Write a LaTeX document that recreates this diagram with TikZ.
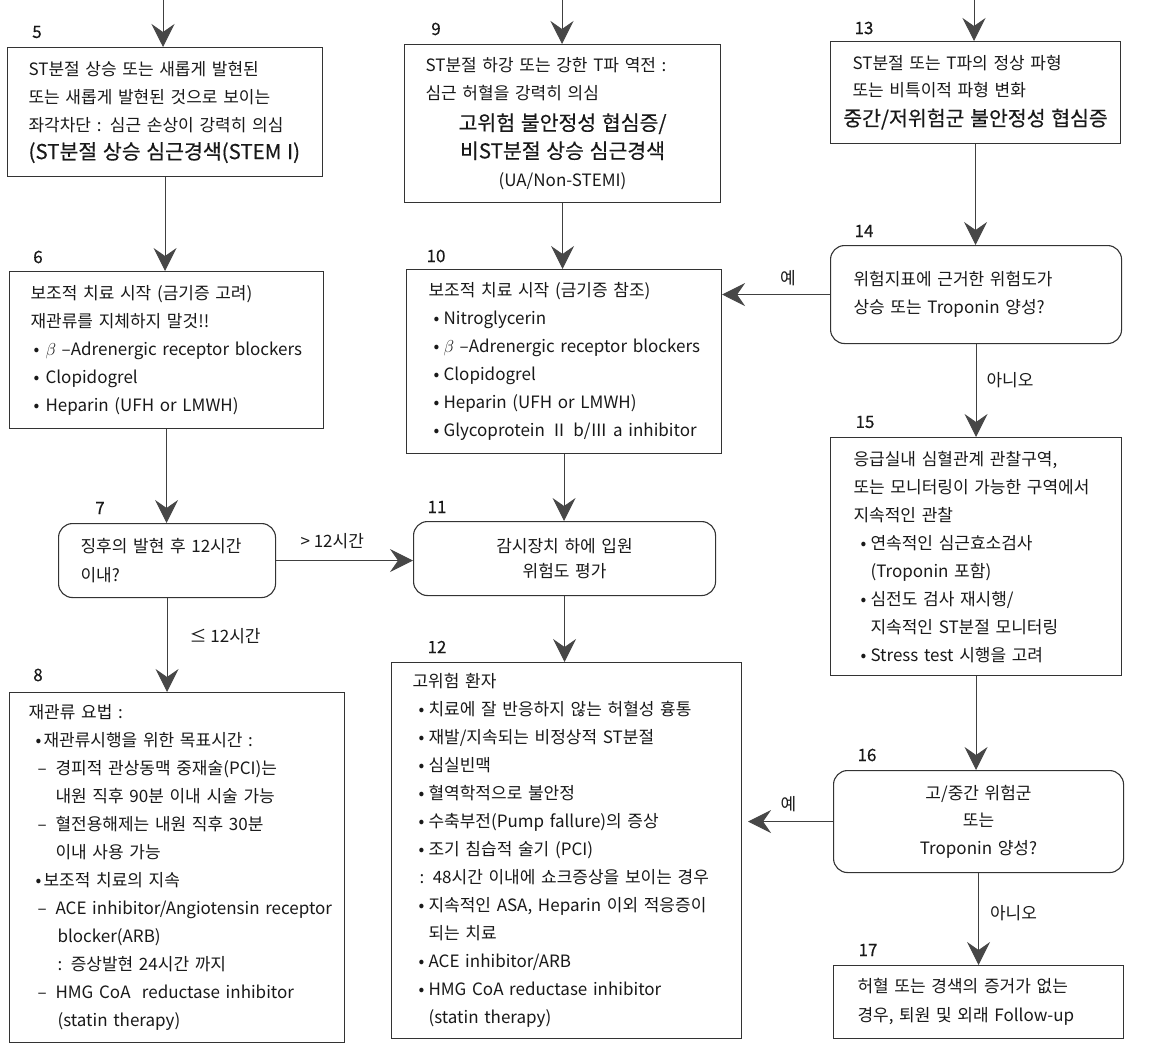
\documentclass[tikz,border=0pt]{standalone}
\usepackage{fontspec}
\setmainfont{Noto Sans CJK KR}
\newfontfamily\medfont[FakeBold=0.35]{Noto Sans CJK KR}
\usetikzlibrary{arrows.meta}
\newcommand\RR{\raggedright\rightskip=0pt plus 1fil minus 90pt\relax}
\newcommand\bl[2]{\hspace*{#1}\makebox[\dimexpr#2-#1\relax][l]{•}}
\newcommand\ds[2]{\hspace*{#1}\makebox[\dimexpr#2-#1\relax][l]{–}}
\newcommand\ctr[1]{\makebox[\linewidth][c]{#1}}
\newcommand\BigTxt{\medfont\fontsize{20.5}{28}\selectfont}
\begin{document}
\begin{tikzpicture}[x=1pt,y=-1pt,
  box/.style={draw=black!80, line width=1.1pt, anchor=north west, inner ysep=0pt,
    font=\fontsize{17}{28}\selectfont, text=black!90},
  rbox/.style={box, rounded corners=14pt},
  num/.style={font=\medfont\fontsize{17}{20}\selectfont, text=black!90, inner sep=0pt},
  lbl/.style={font=\fontsize{17}{20}\selectfont, text=black!90, inner sep=0pt},
  arr/.style={draw=black!75, line width=1pt,
    -{Stealth[length=23pt,width=23pt,inset=8pt,color=black!72,fill=black!72]}}
]
\useasboundingbox[fill=white] (0,0) rectangle (1152,1062);

% ---------- left column ----------
\node[box, inner xsep=21pt, text width=273pt, minimum height=129pt] (b5) at (7,47) {\RR
ST분절 상승 또는 새롭게 발현된\\
또는 새롭게 발현된 것으로 보이는\\
좌각차단 : 심근 손상이 강력히 의심\\
{\BigTxt (ST분절 상승 심근경색(STEM I)}\par};

\node[box, inner xsep=21pt, text width=272pt, minimum height=157pt] (b6) at (9,271) {\RR
보조적 치료 시작 (금기증 고려)\\
재관류를 지체하지 말것!!\\
\bl{3pt}{15pt}$\beta$ –Adrenergic receptor blockers\\
\bl{3pt}{15pt}Clopidogrel\\
\bl{3pt}{15pt}Heparin (UFH or LMWH)\par};

\node[rbox, inner xsep=22pt, text width=173pt, minimum height=74pt] (b7) at (58,523) {\RR
\fontsize{17}{29}\selectfont
징후의 발현 후 12시간\\
이내?\par};

\node[box, inner xsep=19pt, text width=297pt, minimum height=350pt] (b8) at (9,692) {\RR
재관류 요법 :\\
\bl{7pt}{15pt}재관류시행을 위한 목표시간 :\\
\ds{9pt}{27pt}경피적 관상동맥 중재술(PCI)는\\
\hspace*{27pt}내원 직후 90분 이내 시술 가능\\
\ds{9pt}{27pt}혈전용해제는 내원 직후 30분\\
\hspace*{27pt}이내 사용 가능\\
\bl{7pt}{15pt}보조적 치료의 지속\\
\ds{9pt}{27pt}ACE inhibitor/Angiotensin receptor\\
\hspace*{29pt}blocker(ARB)\\
\hspace*{29pt}: 증상발현 24시간 까지\\
\ds{9pt}{27pt}HMG CoA \ reductase inhibitor\\
\hspace*{29pt}(statin therapy)\par};

% ---------- middle column ----------
\node[box, inner xsep=21pt, text width=274pt, minimum height=158pt] (b9) at (404,44) {\RR
ST분절 하강 또는 강한 T파 역전 :\\
심근 허혈을 강력히 의심\\[3pt]
\ctr{\BigTxt 고위험 불안정성 협심증/}\\
\ctr{\BigTxt 비ST분절 상승 심근경색}\\
\ctr{(UA/Non-STEMI)}\par};

\node[box, inner xsep=22pt, text width=271pt, minimum height=184pt] (b10) at (406,269) {\RR
보조적 치료 시작 (금기증 참조)\\
\bl{5pt}{15pt}Nitroglycerin\\
\bl{5pt}{15pt}$\beta$ –Adrenergic receptor blockers\\
\bl{5pt}{15pt}Clopidogrel\\
\bl{5pt}{15pt}Heparin (UFH or LMWH)\\
\bl{5pt}{15pt}Glycoprotein Ⅱ b/Ⅲ a inhibitor\par};

\node[rbox, inner xsep=21pt, text width=260pt, minimum height=74pt] (b11) at (413,521) {\centering
\fontsize{17}{25.5}\selectfont
감시장치 하에 입원\\
위험도 평가\par};

\node[box, inner xsep=21pt, text width=308pt, minimum height=376pt] (b12) at (391,662) {\RR
고위험 환자\\
\bl{6pt}{16pt}치료에 잘 반응하지 않는 허혈성 흉통\\
\bl{6pt}{16pt}재발/지속되는 비정상적 ST분절\\
\bl{6pt}{16pt}심실빈맥\\
\bl{6pt}{16pt}혈역학적으로 불안정\\
\bl{6pt}{16pt}수축부전(Pump fallure)의 증상\\
\bl{6pt}{16pt}조기 침습적 술기 (PCI)\\
\hspace*{7pt}: 48시간 이내에 쇼크증상을 보이는 경우\\
\bl{6pt}{16pt}지속적인 ASA, Heparin 이외 적응증이\\
\hspace*{16pt}되는 치료\\
\bl{6pt}{16pt}ACE inhibitor/ARB\\
\bl{6pt}{16pt}HMG CoA reductase inhibitor\\
\hspace*{16pt}(statin therapy)\par};

% ---------- right column ----------
\node[box, inner xsep=22pt, text width=246pt, minimum height=102pt] (b13) at (830,41) {\RR
\fontsize{17}{27}\selectfont
ST분절 또는 T파의 정상 파형\\
또는 비특이적 파형 변화\\[2pt]
\ctr{\BigTxt 중간/저위험군 불안정성 협심증}\par};

\node[rbox, inner xsep=23pt, text width=245pt, minimum height=98pt] (b14) at (830,245) {\RR
위험지표에 근거한 위험도가\\
상승 또는 Troponin 양성?\par};

\node[box, inner xsep=23pt, text width=245pt, minimum height=238pt] (b15) at (830,437) {\RR
응급실내 심혈관계 관찰구역,\\
또는 모니터링이 가능한 구역에서\\
지속적인 관찰\\
\bl{7pt}{17pt}연속적인 심근효소검사\\
\hspace*{17pt}(Troponin 포함)\\
\bl{7pt}{17pt}심전도 검사 재시행/\\
\hspace*{17pt}지속적인 ST분절 모니터링\\
\bl{7pt}{17pt}Stress test 시행을 고려\par};

\node[rbox, inner xsep=21pt, text width=248pt, minimum height=102pt] (b16) at (833,770) {\centering
\fontsize{17}{27.5}\selectfont
고/중간 위험군\\
또는\\
Troponin 양성?\par};

\node[box, inner xsep=24pt, text width=242pt, minimum height=73pt] (b17) at (833,965) {\RR
\fontsize{17}{29}\selectfont
허혈 또는 경색의 증거가 없는\\
경우, 퇴원 및 외래 Follow-up\par};

% ---------- step numbers ----------
\node[num] (n5) at (37,32) {5};
\node[num] (n6) at (38,257) {6};
\node[num] (n7) at (100,508) {7};
\node[num] (n8) at (38,675) {8};
\node[num] (n9) at (436,29) {9};
\node[num] (n10) at (436,256) {10};
\node[num] (n11) at (437,507) {11};
\node[num] (n12) at (437,647) {12};
\node[num] (n13) at (864,28) {13};
\node[num] (n14) at (864,231) {14};
\node[num] (n15) at (865,422) {15};
\node[num] (n16) at (867,755) {16};
\node[num] (n17) at (868,950) {17};

% ---------- connectors ----------
\coordinate (t5) at (163,0);
\coordinate (t9) at (562,0);
\coordinate (t13) at (974,0);
\draw[arr] (t5) -- (t5 |- b5.north);
\draw[arr] (t9) -- (t9 |- b9.north);
\draw[arr] (t13) -- (t13 |- b13.north);

\draw[arr] (b5.south) -- (b5.south |- b6.north);
\draw[arr] (b6.south) -- (b6.south |- b7.north);
\draw[arr] (b7.south) -- node[lbl, pos=0.4, xshift=58pt] (l7a) {≤ 12시간} (b7.south |- b8.north);
\draw[arr] (b7.east) -- node[lbl, pos=0.41, yshift=19pt] (l7b) {> 12시간} (b7.east -| b11.west);

\draw[arr] (b9.south) -- (b9.south |- b10.north);
\draw[arr] (b10.south) -- (b10.south |- b11.north);
\draw[arr] (b11.south) -- (b11.south |- b12.north);

\draw[arr] (b13.south) -- (b13.south |- b14.north);
\draw[arr] (b14.west) -- node[lbl, pos=0.39, yshift=16pt] (l14a) {예} (b14.west -| b10.east);
\draw[arr] (b14.south) -- node[lbl, pos=0.39, xshift=34pt] (l14b) {아니오} (b14.south |- b15.north);
\draw[arr] (b15.south) -- (b15.south |- b16.north);
\draw[arr, shorten >=6pt] (b16.west) -- node[lbl, pos=0.49, yshift=17pt] (l16a) {예} (b16.west -| b12.east);
\draw[arr] (b16.south) -- node[lbl, pos=0.44, xshift=35pt] (l16b) {아니오} (b16.south |- b17.north);
\end{tikzpicture}
\end{document}
